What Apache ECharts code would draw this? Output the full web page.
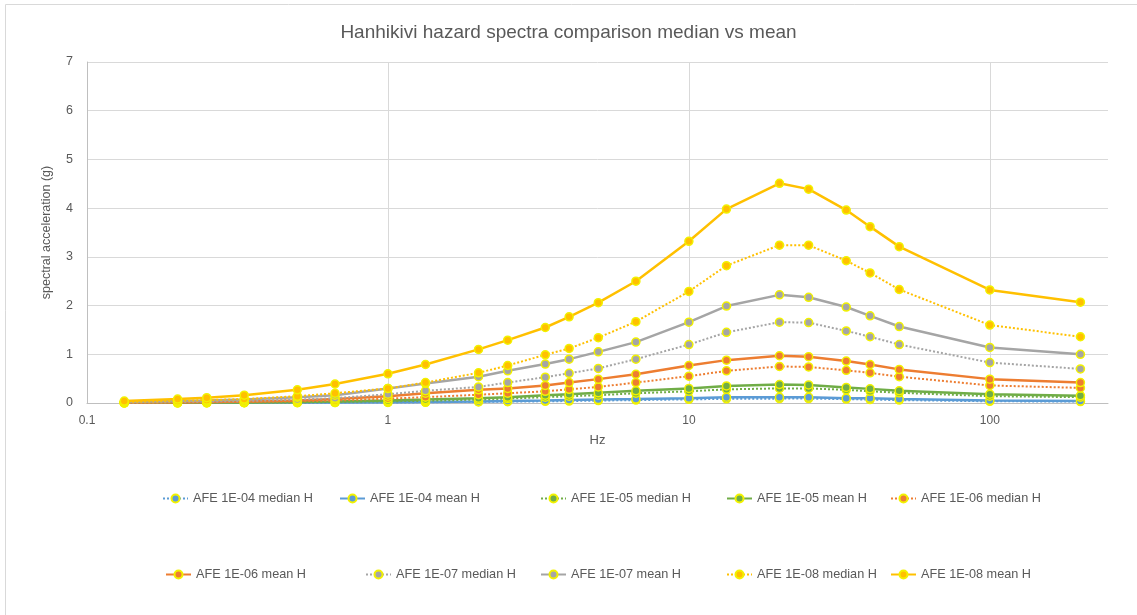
<!DOCTYPE html>
<html><head><meta charset="utf-8">
<script src="https://cdn.jsdelivr.net/npm/echarts@6/dist/echarts.min.js"></script>
<style>html,body{margin:0;padding:0;background:#fff}#c{width:1137px;height:615px}</style>
</head><body><div id="c"></div>
<script>
const freqs = [0.133, 0.2, 0.25, 0.333, 0.5, 0.667, 1, 1.333, 2, 2.5, 3.333, 4, 5, 6.667, 10, 13.333, 20, 25, 33.333, 40, 50, 100, 200];
const afe04Median = [0.002, 0.003, 0.004, 0.005, 0.006, 0.008, 0.01, 0.014, 0.022, 0.028, 0.035, 0.04, 0.05, 0.06, 0.075, 0.085, 0.09, 0.09, 0.08, 0.07, 0.06, 0.035, 0.03];
const afe04Mean   = [0.003, 0.004, 0.005, 0.006, 0.008, 0.011, 0.015, 0.02, 0.03, 0.04, 0.05, 0.06, 0.07, 0.08, 0.10, 0.12, 0.12, 0.12, 0.10, 0.10, 0.08, 0.05, 0.04];
const afe05Median = [0.002, 0.004, 0.005, 0.008, 0.013, 0.02, 0.035, 0.045, 0.07, 0.09, 0.12, 0.14, 0.16, 0.2, 0.24, 0.28, 0.3, 0.3, 0.27, 0.24, 0.21, 0.14, 0.12];
const afe05Mean   = [0.004, 0.006, 0.008, 0.012, 0.02, 0.03, 0.05, 0.07, 0.1, 0.12, 0.16, 0.18, 0.21, 0.25, 0.3, 0.35, 0.38, 0.37, 0.32, 0.29, 0.25, 0.18, 0.15];
const afe06Median = [0.005, 0.01, 0.015, 0.02, 0.035, 0.05, 0.09, 0.12, 0.17, 0.2, 0.24, 0.28, 0.33, 0.42, 0.55, 0.66, 0.75, 0.74, 0.67, 0.62, 0.54, 0.36, 0.31];
const afe06Mean   = [0.01, 0.015, 0.02, 0.03, 0.05, 0.08, 0.14, 0.2, 0.27, 0.3, 0.36, 0.42, 0.49, 0.59, 0.77, 0.88, 0.97, 0.95, 0.86, 0.79, 0.69, 0.49, 0.42];
const afe07Median = [0.01, 0.02, 0.03, 0.04, 0.07, 0.1, 0.18, 0.25, 0.33, 0.42, 0.53, 0.61, 0.71, 0.9, 1.2, 1.45, 1.66, 1.65, 1.48, 1.36, 1.2, 0.83, 0.7];
const afe07Mean   = [0.02, 0.04, 0.05, 0.07, 0.12, 0.16, 0.3, 0.4, 0.54, 0.66, 0.8, 0.9, 1.05, 1.25, 1.66, 1.99, 2.22, 2.17, 1.97, 1.79, 1.57, 1.14, 1.0];
const afe08Median = [0.02, 0.04, 0.06, 0.08, 0.14, 0.2, 0.3, 0.42, 0.62, 0.77, 0.99, 1.12, 1.34, 1.67, 2.29, 2.82, 3.24, 3.24, 2.92, 2.67, 2.33, 1.6, 1.36];
const afe08Mean   = [0.04, 0.08, 0.11, 0.16, 0.27, 0.39, 0.6, 0.79, 1.1, 1.29, 1.55, 1.77, 2.06, 2.5, 3.32, 3.98, 4.51, 4.39, 3.96, 3.62, 3.21, 2.32, 2.07];
const seriesNames = ['AFE 1E-04 median H','AFE 1E-04 mean H','AFE 1E-05 median H','AFE 1E-05 mean H','AFE 1E-06 median H',
                     'AFE 1E-06 mean H','AFE 1E-07 median H','AFE 1E-07 mean H','AFE 1E-08 median H','AFE 1E-08 mean H'];
const xTickLabels = ['0.1','1','10','100'];

const seriesValues = [afe04Median, afe04Mean, afe05Median, afe05Mean, afe06Median, afe06Mean, afe07Median, afe07Mean, afe08Median, afe08Mean];
const colors = ['#5B9BD5','#5B9BD5','#70AD47','#70AD47','#ED7D31','#ED7D31','#A5A5A5','#A5A5A5','#FFC000','#FFC000'];
const font = 'Liberation Sans, Arial, sans-serif';

const series = seriesValues.map((vals, i) => {
  const dotted = i % 2 === 0;
  return {
    name: seriesNames[i], type: 'line', z: 2 + i,
    data: freqs.map((f, j) => [f, vals[j]]),
    symbol: 'circle', symbolSize: 8,
    itemStyle: { color: colors[i], borderColor: '#F2F200', borderWidth: 1.5 },
    lineStyle: { color: colors[i], width: dotted ? 2 : 2.5, type: dotted ? 'dotted' : 'solid' },
    emphasis: { disabled: true }
  };
});

const legendLefts = [157, 334, 535, 721, 885, 160, 360, 535, 721, 885];
const legends = seriesNames.map((n, i) => ({
  data: [n], left: legendLefts[i], top: i < 5 ? 487 : 563,
  itemWidth: 25, itemHeight: 10, itemGap: 0,
  textStyle: { fontFamily: font, fontSize: 12.7, color: '#595959' },
  selectedMode: false
}));

const chart = echarts.init(document.getElementById('c'), null, { renderer: 'canvas' });
chart.setOption({
  animation: false,
  color: colors,
  title: { text: 'Hanhikivi hazard spectra comparison median vs mean', left: 'center', top: 18,
           textStyle: { fontFamily: font, fontSize: 19, fontWeight: 'normal', color: '#595959' } },
  legend: legends,
  grid: { left: 87, right: 29, top: 62, bottom: 212 },
  xAxis: {
    type: 'log', logBase: 10, min: 0.1, max: 247,
    name: 'Hz', nameLocation: 'middle', nameGap: 31,
    nameTextStyle: { fontFamily: font, fontSize: 13, color: '#595959' },
    axisLine: { show: true, lineStyle: { color: '#BFBFBF', width: 1 } },
    axisTick: { show: false },
    axisLabel: { fontFamily: font, fontSize: 12, color: '#595959', margin: 12, showMaxLabel: false,
                 formatter: v => { const s = xTickLabels.find(t => Math.abs(parseFloat(t) - v) < 1e-6 * Math.max(1, v)); return s || ''; } },
    splitLine: { show: true, showMaxLine: false, lineStyle: { color: '#D9D9D9', width: 1 } }
  },
  yAxis: {
    type: 'value', min: 0, max: 7, interval: 1,
    name: 'spectral acceleration (g)', nameLocation: 'middle', nameGap: 34, nameRotate: 90,
    nameTextStyle: { fontFamily: font, fontSize: 12.5, color: '#595959' },
    axisLine: { show: true, lineStyle: { color: '#BFBFBF', width: 1 } },
    axisTick: { show: false },
    axisLabel: { fontFamily: font, fontSize: 12.5, color: '#595959', margin: 14 },
    splitLine: { show: true, lineStyle: { color: '#D9D9D9', width: 1 } }
  },
  graphic: [{ type: 'rect', shape: { x: 5.5, y: 4.5, width: 1200, height: 700 },
              style: { fill: 'none', stroke: '#D9D9D9', lineWidth: 1 }, silent: true, z: -1 }],
  series: series
});
</script>
</body></html>
